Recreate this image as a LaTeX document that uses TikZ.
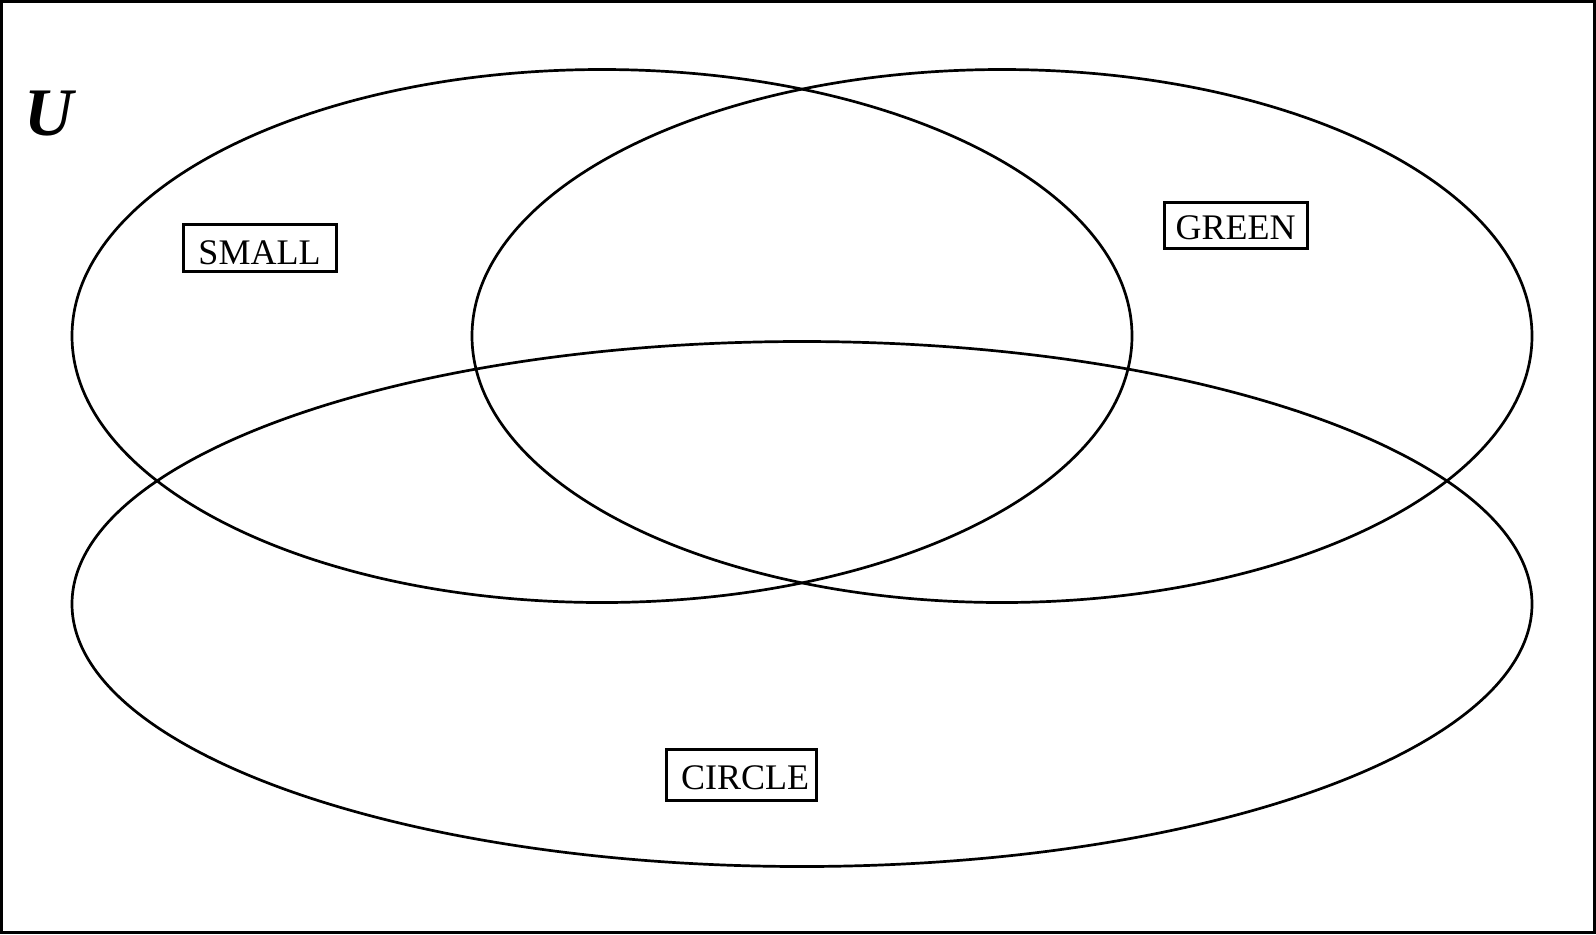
\documentclass[tikz,border=0pt]{standalone}
\usepackage{fontspec}
\setmainfont{Liberation Serif}
\usetikzlibrary{calc}
\tikzset{setlabel/.style={draw, line width=1.5pt, inner xsep=0pt, inner ysep=0pt,
    font=\fontsize{18}{20}\selectfont}}

\begin{document}
\begin{tikzpicture}[x=0.5pt,y=-0.5pt]
    \useasboundingbox (0,0) rectangle (1596,934);
    \draw [line width=1.5pt] (1.5,1.5) rectangle (1594.5,932.5);
    \node [anchor=base west, inner sep=0pt, font=\fontsize{34}{36}\selectfont\bfseries\itshape] (univ) at (24,135) {U};
    % the three sets
    \draw [line width=1.35pt] (602,336) ellipse [x radius=530, y radius=266.5];
    \draw [line width=1.35pt] (1002,336) ellipse [x radius=530, y radius=266.5];
    \draw [line width=1.35pt] (802,604) ellipse [x radius=730, y radius=262.5];
    \node [setlabel, minimum width=76.5pt, text height=20.2pt, text depth=3.3pt] (small) at (259.5,248) {SMALL};
    \node [setlabel, minimum width=71.5pt, text height=18.5pt, text depth=4.3pt] (green) at (1235.5,225.5) {GREEN};
    \node [setlabel, minimum width=75pt, text height=20.2pt, text depth=5.3pt] (circle) at (741,775) {\hspace{4pt}CIRCLE};
\end{tikzpicture}
\end{document}
